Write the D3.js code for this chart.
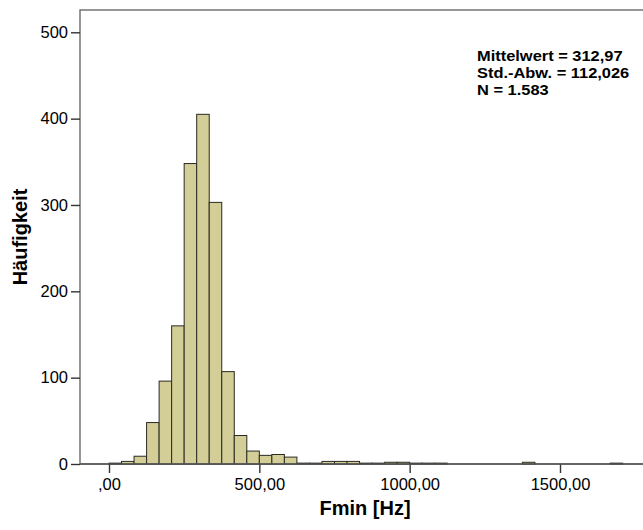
<!DOCTYPE html>
<html>
<head>
<meta charset="utf-8">
<script src="https://cdn.jsdelivr.net/npm/d3@7"></script>
<style>
  body { margin: 0; background: #fff; }
  svg { display: block; }
</style>
</head>
<body>
<div id="chart"></div>
<script>
// Histogram of Fmin [Hz], bins start at 0 with width 500/12
const binWidth = 500 / 12;
const counts = [1, 3, 9, 48, 96, 160, 348, 405, 303, 107, 33, 15, 10, 11, 8,
                1, 1, 3, 3, 3, 1, 1, 2, 2, 1, 1, 1, 0, 0, 0, 0, 0, 0, 2,
                0, 0, 0, 0, 0, 0, 1];
const xTicks = [0, 500, 1000, 1500];
const xTickLabels = [',00', '500,00', '1000,00', '1500,00'];
const yTicks = [0, 100, 200, 300, 400, 500];
const statsLines = ['Mittelwert = 312,97', 'Std.-Abw. = 112,026', 'N = 1.583'];

const W = 643, H = 530;
const plot = { left: 80, top: 10, right: 652, bottom: 464 };
const FONT = '"Liberation Sans", Arial, sans-serif';

const svg = d3.select('#chart').append('svg')
    .attr('width', W)
    .attr('height', H);

const x = d3.scaleLinear().domain([0, 1500]).range([109, 560]);
const y = d3.scaleLinear().domain([0, 500]).range([plot.bottom, 32.3]);

// Frame
svg.append('rect')
    .attr('x', plot.left)
    .attr('y', plot.top)
    .attr('width', plot.right - plot.left)
    .attr('height', plot.bottom - plot.top)
    .attr('fill', 'none')
    .attr('stroke', '#6b6b6b')
    .attr('stroke-width', 1.4);

// Bars
const bins = counts.map((c, i) => ({ x0: i * binWidth, x1: (i + 1) * binWidth, n: c }))
    .filter(d => d.n > 0);

svg.append('g')
    .selectAll('rect')
    .data(bins)
    .enter().append('rect')
    .attr('x', d => x(d.x0))
    .attr('y', d => y(d.n))
    .attr('width', d => x(d.x1) - x(d.x0))
    .attr('height', d => y(0) - y(d.n))
    .attr('fill', '#d3ce97')
    .attr('stroke', '#2a2a22')
    .attr('stroke-width', 1);

// Axes
const yAxis = svg.append('g')
    .attr('transform', `translate(${plot.left},0)`)
    .call(d3.axisLeft(y).tickValues(yTicks).tickSize(9).tickPadding(3));

const xAxis = svg.append('g')
    .attr('transform', `translate(0,${plot.bottom})`)
    .call(d3.axisBottom(x).tickValues(xTicks).tickSize(9).tickPadding(5)
        .tickFormat((d, i) => xTickLabels[i]));

[yAxis, xAxis].forEach(g => {
    g.select('.domain').remove();
    g.selectAll('line').attr('stroke', '#333').attr('stroke-width', 1.4);
    g.selectAll('text')
        .attr('fill', '#000')
        .style('font-family', FONT)
        .style('font-size', '16.5px');
});

// Baseline across the whole width
svg.append('line')
    .attr('x1', plot.left).attr('x2', W + 5)
    .attr('y1', plot.bottom).attr('y2', plot.bottom)
    .attr('stroke', '#555')
    .attr('stroke-width', 1.4);

// Axis titles
svg.append('text')
    .attr('x', 365)
    .attr('y', 515)
    .attr('text-anchor', 'middle')
    .style('font-family', FONT)
    .style('font-weight', 'bold')
    .style('font-size', '20px')
    .text('Fmin [Hz]');

svg.append('text')
    .attr('transform', 'translate(27,237) rotate(-90)')
    .attr('text-anchor', 'middle')
    .style('font-family', FONT)
    .style('font-weight', 'bold')
    .style('font-size', '20px')
    .text('Häufigkeit');

// Statistics box (text is slightly wide in the original, so stretch it horizontally)
svg.append('g')
    .selectAll('text')
    .data(statsLines)
    .enter().append('text')
    .attr('transform', (d, i) => `translate(477,${61 + i * 17.2}) scale(1.11,1)`)
    .style('font-family', FONT)
    .style('font-weight', 'bold')
    .style('font-size', '14.8px')
    .text(d => d);
</script>
</body>
</html>
